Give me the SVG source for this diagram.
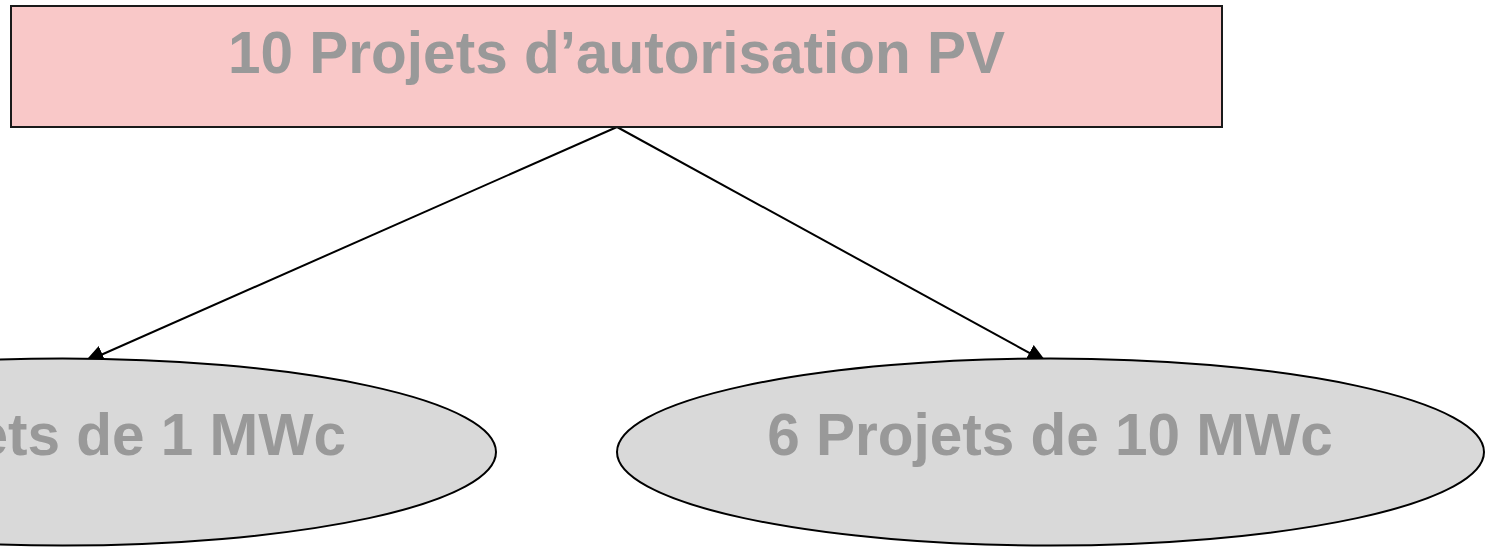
<svg xmlns="http://www.w3.org/2000/svg" width="1489" height="547" viewBox="0 0 1489 547">
<defs>
<style>
.lbl{font-family:"Liberation Sans",Arial,sans-serif;font-weight:bold;font-size:58.5px;fill:#999999}
.conn{stroke:#000;stroke-width:2;fill:none}
.ell{fill:#D9D9D9;stroke:#000;stroke-width:2}
</style>
<marker id="arrB" markerWidth="20" markerHeight="18" refX="19" refY="9" orient="auto" markerUnits="userSpaceOnUse" viewBox="0 0 20 18">
<path d="M0,0 L20,9 L0,18 Z" fill="#000"/>
</marker>
</defs>
<g id="connectors">
<line class="conn" x1="617" y1="127" x2="85" y2="362" marker-end="url(#arrB)"/>
<line class="conn" x1="617" y1="127" x2="1046" y2="362" marker-end="url(#arrB)"/>
</g>
<g id="root">
<rect x="11" y="6" width="1211" height="121" fill="#F9C8C8" stroke="#1a1a1a" stroke-width="2"/>
<text class="lbl" x="616.5" y="73" text-anchor="middle">10 Projets d’autorisation PV</text>
</g>
<g id="left">
<ellipse class="ell" cx="62.5" cy="452" rx="433.5" ry="93.5"/>
<text class="lbl" x="346" y="455" text-anchor="end">4 Projets de 1 MWc</text>
</g>
<g id="right">
<ellipse class="ell" cx="1050.5" cy="452" rx="433.5" ry="93.5"/>
<text class="lbl" x="1050" y="455" text-anchor="middle">6 Projets de 10 MWc</text>
</g>
</svg>
